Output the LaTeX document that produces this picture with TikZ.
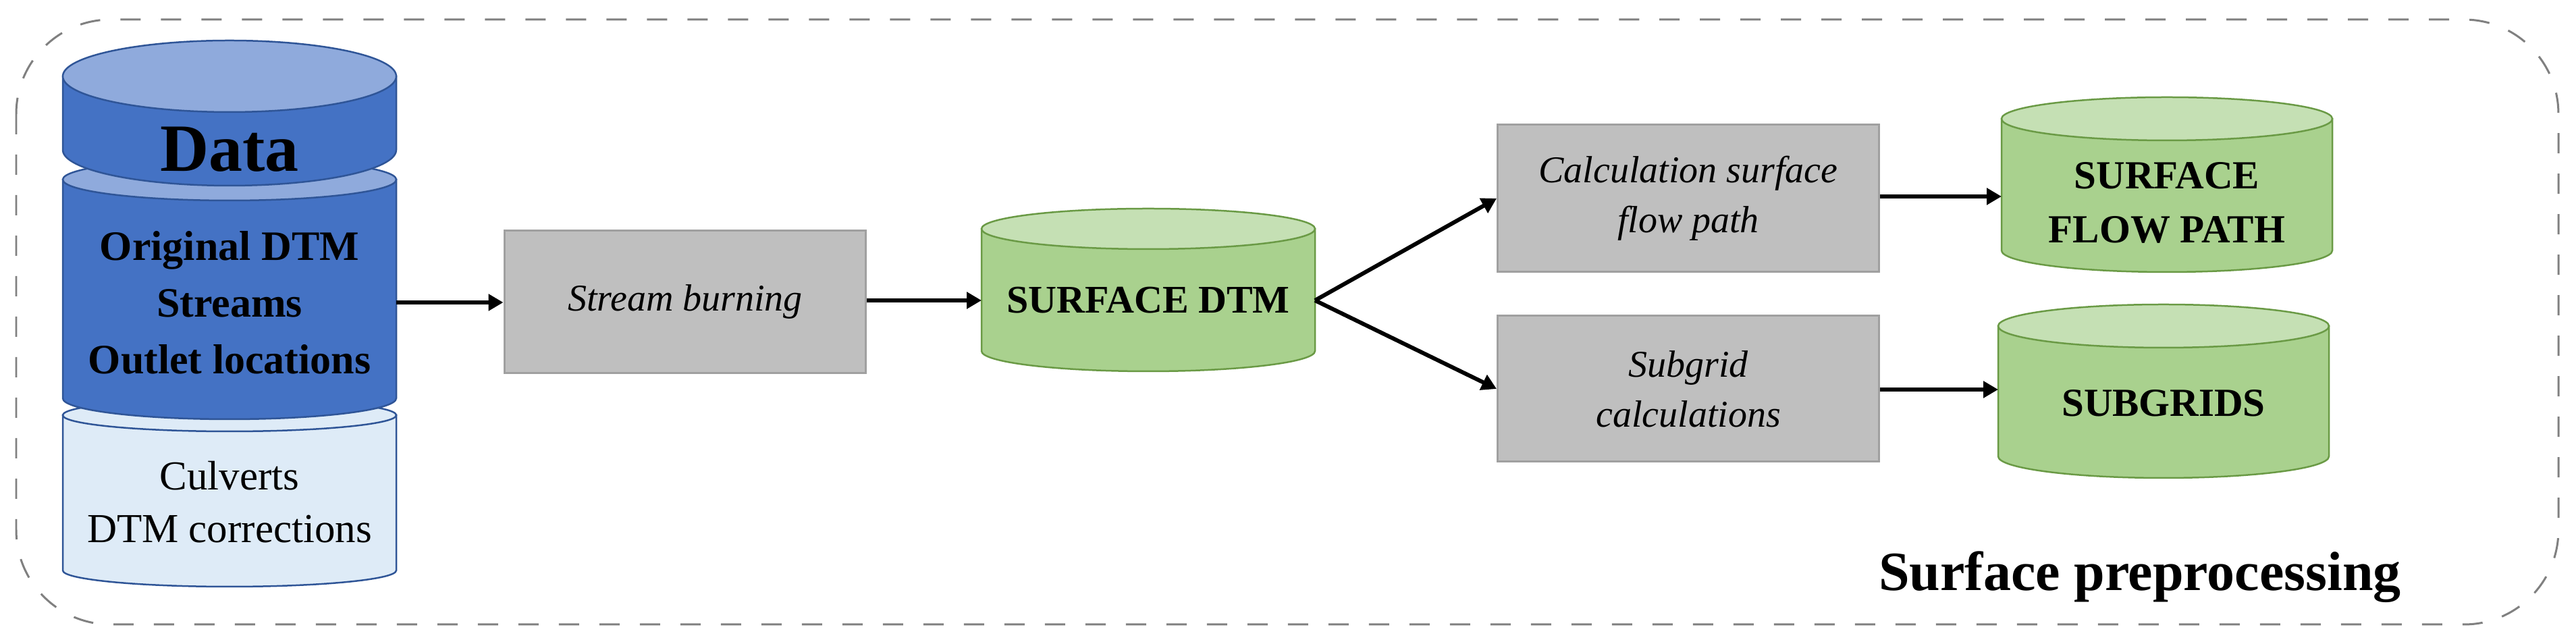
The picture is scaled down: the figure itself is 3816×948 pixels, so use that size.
\documentclass[tikz,border=0pt]{standalone}
\usepackage{fontspec}
\setmainfont{Liberation Serif}
\usetikzlibrary{arrows.meta}
\definecolor{dblue}{HTML}{4472C4}
\definecolor{mblue}{HTML}{8FAADC}
\definecolor{lblue}{HTML}{DEEBF7}
\definecolor{bblue}{HTML}{2F5597}
\definecolor{gfill}{HTML}{A9D18E}
\definecolor{gtop}{HTML}{C5E0B4}
\definecolor{gline}{HTML}{6A9A45}
\definecolor{boxg}{HTML}{BFBFBF}
\definecolor{boxl}{HTML}{A0A0A0}
% #1 x-left, #2 x-right, #3 top centre y, #4 bottom centre y, #5 ry, #6 body, #7 top, #8 line
\newcommand\mycyl[8]{%
  \pgfmathsetmacro\rx{(#2-#1)/2}%
  \path[fill=#6,draw=#8,line width=0.25pt] (#1,#3) -- (#1,#4) arc[start angle=180,end angle=0,x radius=\rx,y radius=#5] -- (#2,#3) -- cycle;
  \path[fill=#7,draw=#8,line width=0.25pt] (#1+\rx,#3) ellipse[x radius=\rx,y radius=#5];
}
\tikzset{
  box/.style={draw=boxl,fill=boxg,line width=0.3pt,minimum width=#1,inner sep=0pt,align=center,font=\fontsize{5.6}{7.4}\selectfont\itshape},
  lbl/.style={inner sep=0pt,align=center},
  arr/.style={-{Triangle[length=2.2pt,width=2.4pt]},line width=0.6pt,black},
}
\begin{document}
\begin{tikzpicture}[x=0.1pt,y=-0.1pt]
\useasboundingbox (0,0) rectangle (3816,948);
\draw[gray,dashed,line width=0.3pt,rounded corners=14pt] (24,29) rectangle (3790,925);
% data cylinders
\mycyl{93}{587}{615}{845}{24}{lblue}{lblue}{bblue}
\mycyl{93}{587}{266}{590}{31}{dblue}{mblue}{bblue}
\mycyl{93}{587}{113}{222}{53}{dblue}{mblue}{bblue}
\node[lbl,font=\fontsize{10}{11}\selectfont\bfseries] (data) at (340,221) {Data};
\node[lbl,font=\fontsize{6.2}{8.4}\selectfont\bfseries] (orig) at (340,448) {Original DTM\\Streams\\Outlet locations};
\node[lbl,font=\fontsize{6.1}{7.8}\selectfont] (culv) at (340,744) {Culverts\\DTM corrections};
\coordinate (dataR) at (587,448);
% stream burning
\node[box=53.6pt,minimum height=21.1pt] (sb) at (1015,447) {Stream burning};
% surface DTM
\mycyl{1454}{1948}{339}{520}{30}{gfill}{gtop}{gline}
\node[lbl,font=\fontsize{5.8}{7}\selectfont\bfseries] (sdtm) at (1701,445) {SURFACE DTM};
\coordinate (sdtmR) at (1948,445);
\coordinate (sdtmL) at (1454,445);
% right boxes
\node[box=56.5pt,minimum height=21.8pt] (calc) at (2501,294) {Calculation surface\\flow path};
\node[box=56.5pt,minimum height=21.6pt] (sub) at (2501,576) {Subgrid\\calculations};
\mycyl{2965}{3455}{176}{371}{32}{gfill}{gtop}{gline}
\node[lbl,font=\fontsize{5.9}{8}\selectfont\bfseries] (sfp) at (3210,300) {SURFACE\\FLOW PATH};
\mycyl{2960}{3450}{483}{676}{32}{gfill}{gtop}{gline}
\node[lbl,font=\fontsize{5.9}{7}\selectfont\bfseries] (sg) at (3205,597) {SUBGRIDS};
\coordinate (sfpL) at (2965,291);
\coordinate (sgL) at (2960,577);
\node[lbl,font=\fontsize{8.2}{9}\selectfont\bfseries] (title) at (3170,855) {Surface preprocessing};
% arrows
\draw[arr] (dataR) -- (sb.west |- dataR);
\draw[arr] (sb.east |- sdtmL) -- (sdtmL);
\draw[arr] (sdtmR) -- (calc.west);
\draw[arr] (sdtmR) -- (sub.west);
\draw[arr] (calc.east |- sfpL) -- (sfpL);
\draw[arr] (sub.east |- sgL) -- (sgL);
\end{tikzpicture}
\end{document}
